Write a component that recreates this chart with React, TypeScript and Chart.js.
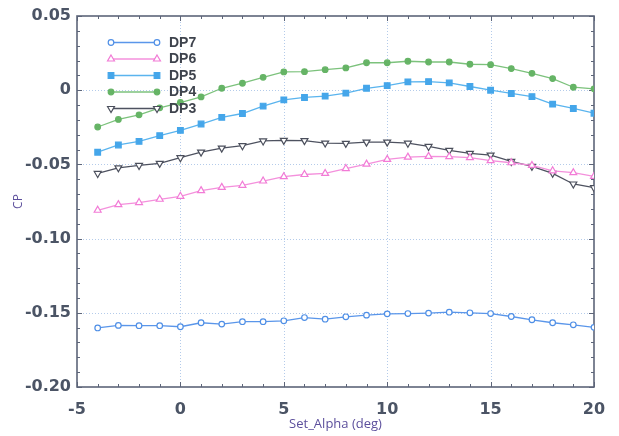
import React, { useEffect, useRef } from 'react';
import { Chart, registerables } from 'chart.js';

Chart.register(...registerables);

const alpha = [-4, -3, -2, -1, 0, 1, 2, 3, 4, 5, 6, 7, 8, 9, 10, 11, 12, 13, 14, 15, 16, 17, 18, 19, 20];

const dp7 = [-0.1602, -0.1585, -0.1587, -0.1587, -0.1594, -0.1567, -0.1576, -0.156, -0.156, -0.1554, -0.1532, -0.1543, -0.1527, -0.1516, -0.1507, -0.1505, -0.1502, -0.1496, -0.15, -0.1505, -0.1525, -0.1547, -0.1567, -0.1581, -0.1598];
const dp6 = [-0.0809, -0.0771, -0.0757, -0.0735, -0.0715, -0.0677, -0.0655, -0.0641, -0.0612, -0.0583, -0.0568, -0.0561, -0.0528, -0.0498, -0.0466, -0.0451, -0.0446, -0.0448, -0.0455, -0.0475, -0.0489, -0.0507, -0.0543, -0.0556, -0.0581];
const dp5 = [-0.0418, -0.0369, -0.0345, -0.0306, -0.0271, -0.0228, -0.0183, -0.0157, -0.0107, -0.0065, -0.0049, -0.004, -0.002, 0.0013, 0.0031, 0.0056, 0.0058, 0.0049, 0.0025, 0.0, -0.0022, -0.0043, -0.0094, -0.0123, -0.0155];
const dp4 = [-0.0248, -0.0197, -0.0166, -0.0119, -0.0083, -0.0045, 0.0013, 0.0047, 0.0087, 0.0123, 0.0125, 0.0138, 0.015, 0.0185, 0.0185, 0.0195, 0.019, 0.019, 0.0175, 0.0172, 0.0146, 0.0114, 0.0078, 0.002, 0.0009];
const dp3 = [-0.0561, -0.0523, -0.0507, -0.0493, -0.0455, -0.0417, -0.039, -0.0374, -0.0342, -0.0338, -0.034, -0.0356, -0.0358, -0.035, -0.035, -0.0357, -0.0379, -0.0406, -0.0426, -0.0437, -0.048, -0.0513, -0.056, -0.0632, -0.0657];

const xGridValues = [0, 5, 10, 15];
const yGridValues = [-0.15, -0.1, -0.05, 0];

const seriesNames = ['DP7', 'DP6', 'DP5', 'DP4', 'DP3'];
const seriesValues = [dp7, dp6, dp5, dp4, dp3];

type Style = { line: string; marker: string; fill: string; shape: string; radius: number; rotation: number };
const seriesStyles: Style[] = [
  { line: '#5a96ea', marker: '#4f8fe6', fill: '#ffffff', shape: 'circle', radius: 2.8, rotation: 0 },
  { line: '#f490dc', marker: '#f27bd6', fill: '#ffffff', shape: 'triangle', radius: 4, rotation: 0 },
  { line: '#5ab4ee', marker: '#45a6ea', fill: '#45a6ea', shape: 'rect', radius: 4, rotation: 0 },
  { line: '#7cc27c', marker: '#66b466', fill: '#66b466', shape: 'circle', radius: 2.8, rotation: 0 },
  { line: '#4e5260', marker: '#4b4f5c', fill: '#ffffff', shape: 'triangle', radius: 4, rotation: 180 },
];

function drawMarker(ctx: CanvasRenderingContext2D, s: Style, x: number, y: number) {
  ctx.save();
  ctx.strokeStyle = s.marker;
  ctx.fillStyle = s.fill;
  ctx.lineWidth = 1.2;
  ctx.beginPath();
  const r = s.radius;
  if (s.shape === 'circle') {
    ctx.arc(x, y, r, 0, Math.PI * 2);
  } else if (s.shape === 'rect') {
    const h = r * Math.SQRT1_2;
    ctx.rect(x - h, y - h, 2 * h, 2 * h);
  } else {
    let rad = (s.rotation * Math.PI) / 180;
    ctx.moveTo(x + Math.sin(rad) * r, y - Math.cos(rad) * r);
    rad += (2 * Math.PI) / 3;
    ctx.lineTo(x + Math.sin(rad) * r, y - Math.cos(rad) * r);
    rad += (2 * Math.PI) / 3;
    ctx.lineTo(x + Math.sin(rad) * r, y - Math.cos(rad) * r);
    ctx.closePath();
  }
  ctx.fill();
  ctx.stroke();
  ctx.restore();
}

const framePlugin = {
  id: 'frameTicks',
  beforeDatasetsDraw(chart: any) {
    const { ctx, chartArea: a, scales } = chart;
    const xs = scales.x;
    const ys = scales.y;
    ctx.save();
    ctx.strokeStyle = '#b4cbea';
    ctx.lineWidth = 1;
    ctx.setLineDash([1, 2]);
    for (const v of xGridValues) {
      const px = Math.round(xs.getPixelForValue(v)) + 0.5;
      ctx.beginPath();
      ctx.moveTo(px, a.top);
      ctx.lineTo(px, a.bottom);
      ctx.stroke();
    }
    for (const v of yGridValues) {
      const py = Math.round(ys.getPixelForValue(v)) + 0.5;
      ctx.beginPath();
      ctx.moveTo(a.left, py);
      ctx.lineTo(a.right, py);
      ctx.stroke();
    }
    ctx.setLineDash([]);
    ctx.strokeStyle = '#5d6579';
    ctx.lineWidth = 1;
    for (let v = -5; v <= 20; v++) {
      const px = Math.round(xs.getPixelForValue(v)) + 0.5;
      const len = v % 5 === 0 ? 5 : 3;
      ctx.beginPath();
      ctx.moveTo(px, a.bottom);
      ctx.lineTo(px, a.bottom - len);
      ctx.moveTo(px, a.top);
      ctx.lineTo(px, a.top + len);
      ctx.stroke();
    }
    for (let i = 0; i <= 25; i++) {
      const v = -0.2 + i * 0.01;
      const py = Math.round(ys.getPixelForValue(v)) + 0.5;
      const len = i % 5 === 0 ? 5 : 3;
      ctx.beginPath();
      ctx.moveTo(a.left, py);
      ctx.lineTo(a.left + len, py);
      ctx.moveTo(a.right, py);
      ctx.lineTo(a.right - len, py);
      ctx.stroke();
    }
    ctx.lineWidth = 1.6;
    ctx.strokeRect(a.left, a.top, a.right - a.left, a.bottom - a.top);
    ctx.restore();
  },
  afterDraw(chart: any) {
    const { ctx } = chart;
    ctx.save();
    const x1 = 111;
    const x2 = 157;
    const tx = 169;
    const rows = [42.5, 59, 75.5, 92, 108.5];
    seriesNames.forEach((name, i) => {
      const s = seriesStyles[i];
      const y = rows[i];
      ctx.strokeStyle = s.line;
      ctx.lineWidth = 1.3;
      ctx.beginPath();
      ctx.moveTo(x1, y);
      ctx.lineTo(x2, y);
      ctx.stroke();
      drawMarker(ctx, s, x1, y);
      drawMarker(ctx, s, x2, y);
      ctx.fillStyle = '#3e434d';
      ctx.font = 'bold 14px "Liberation Sans", Arial, sans-serif';
      ctx.textAlign = 'left';
      ctx.textBaseline = 'middle';
      ctx.fillText(name, tx, y + 0.5);
    });
    ctx.restore();
  },
};

export default function App() {
  const ref = useRef<HTMLCanvasElement | null>(null);

  useEffect(() => {
    if (!ref.current) return;
    const datasets = seriesNames.map((name, i) => {
      const s = seriesStyles[i];
      return {
        label: name,
        data: alpha.map((a, j) => ({ x: a, y: seriesValues[i][j] })),
        borderColor: s.line,
        borderWidth: 1.3,
        backgroundColor: s.fill,
        pointBackgroundColor: s.fill,
        pointBorderColor: s.marker,
        pointBorderWidth: 1.2,
        pointStyle: s.shape,
        pointRadius: s.radius,
        pointRotation: s.rotation,
        tension: 0,
        fill: false,
      };
    });
    const chart = new Chart(ref.current, {
      type: 'line',
      data: { datasets },
      plugins: [framePlugin],
      options: {
        animation: false,
        responsive: false,
        events: [],
        layout: { padding: { top: 16, right: 25, bottom: 0, left: 0 } },
        plugins: { legend: { display: false }, tooltip: { enabled: false }, title: { display: false } },
        scales: {
          x: {
            type: 'linear',
            min: -5,
            max: 20,
            grid: { display: false, drawTicks: false },
            border: { display: false },
            ticks: {
              stepSize: 5,
              padding: 13,
              color: '#4b5465',
              font: { family: '"DejaVu Sans", sans-serif', size: 16, weight: 'bold' },
              maxRotation: 0,
            },
            title: {
              display: true,
              text: 'Set_Alpha (deg)',
              color: '#5c4f9c',
              font: { family: '"Open Sans", sans-serif', size: 13 },
              padding: { top: 0, bottom: 4 },
            },
            afterFit: (scale: any) => {
              scale.height = 49;
            },
          },
          y: {
            type: 'linear',
            min: -0.2,
            max: 0.05,
            grid: { display: false, drawTicks: false },
            border: { display: false },
            ticks: {
              stepSize: 0.05,
              padding: 6,
              color: '#4b5465',
              font: { family: '"DejaVu Sans", sans-serif', size: 16, weight: 'bold' },
              callback: (v: any) => {
                const n = Number(v);
                if (Math.abs(n) < 1e-9) return '0';
                return n.toFixed(2);
              },
            },
            title: {
              display: true,
              text: 'CP',
              color: '#5c4f9c',
              font: { family: '"Open Sans", sans-serif', size: 12 },
              padding: { top: 11, bottom: 0 },
            },
            afterFit: (scale: any) => {
              scale.width = 77;
            },
          },
        },
      } as any,
    });
    return () => chart.destroy();
  }, []);

  return (
    <div style={{ position: 'absolute', left: 0, top: 0, width: 619, height: 436, background: '#ffffff' }}>
      <canvas ref={ref} width={619} height={436} style={{ display: 'block' }} />
    </div>
  );
}
